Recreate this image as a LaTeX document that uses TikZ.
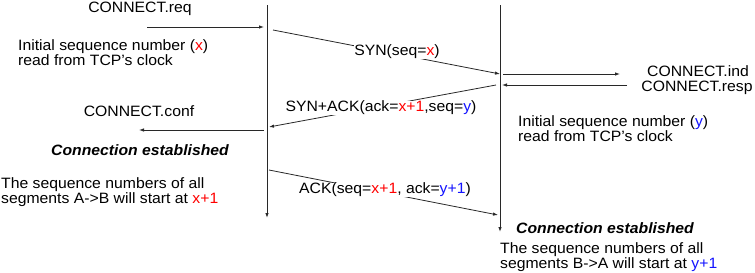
\documentclass[tikz,border=0pt]{standalone}
\usepackage{fontspec}
\setmainfont{Liberation Sans}[FakeStretch=1.05]
\usetikzlibrary{arrows.meta}
\definecolor{xred}{RGB}{255,0,0}
\definecolor{yblue}{RGB}{20,20,255}
\definecolor{linegray}{RGB}{40,40,40}
\tikzset{
  every node/.style={inner sep=0pt, font=\fontsize{15}{15}\selectfont},
  timeline/.style={draw=linegray, line width=0.9pt, -{Latex[length=5pt,width=3.5pt]}},
  msg/.style={draw=linegray, line width=0.8pt, -{Latex[length=5pt,width=3.5pt]}},
  msglabel/.style={fill=white, inner sep=0.5pt},
  txt/.style={align=left, anchor=west},
  estab/.style={font=\fontsize{15}{15}\selectfont\bfseries\itshape}
}
\newcommand{\rx}[1]{\textcolor{xred}{#1}}
\newcommand{\by}[1]{\textcolor{yblue}{#1}}
\begin{document}
\begin{tikzpicture}[x=1pt,y=-1pt]
\useasboundingbox (0,0) rectangle (755,273);
% timelines
\coordinate (Atop) at (267,5);
\coordinate (Abot) at (267,218);
\coordinate (Btop) at (500,5);
\coordinate (Bbot) at (500,232);
\draw[timeline] (Atop) -- (Abot);
\draw[timeline] (Btop) -- (Bbot);
% end points
\coordinate (reqS) at (147,27);
\coordinate (reqE) at (264,27);
\coordinate (synS) at (273,30);
\coordinate (synE) at (500,74);
\coordinate (indS) at (503,74);
\coordinate (indE) at (620,74);
\coordinate (respS) at (627,85);
\coordinate (respE) at (502,85);
\coordinate (saS) at (496,85);
\coordinate (saE) at (269,127);
\coordinate (confS) at (264,130);
\coordinate (confE) at (139,130);
\coordinate (ackS) at (269,170);
\coordinate (ackE) at (498,215);
% arrows
\draw[msg] (reqS) -- (reqE);
\draw[msg] (synS) -- (synE);
\draw[msg] (indS) -- (indE);
\draw[msg] (respS) -- (respE);
\draw[msg] (saS) -- (saE);
\draw[msg] (confS) -- (confE);
\draw[msg] (ackS) -- (ackE);
% message labels
\node[msglabel] (synl) at (397,52) {SYN(seq=\rx{x})};
\node[msglabel] (sal) at (381,108) {SYN+ACK(ack=\rx{x+1},seq=\by{y})};
\node[msglabel] (ackl) at (385,190) {ACK(seq=\rx{x+1}, ack=\by{y+1})};
% texts side A
\node (req) at (140,9) {CONNECT.req};
\node[txt] (isnA) at (18,53) {Initial sequence number (\rx{x})\\read from TCP’s clock};
\node (conf) at (139,111) {CONNECT.conf};
\node[estab] (ceA) at (140,150) {Connection established};
\node[txt] (seqA) at (1,192) {The sequence numbers of all\\segments A->B will start at \rx{x+1}};
% texts side B
\node (ind) at (698,71) {CONNECT.ind};
\node (resp) at (697,88) {CONNECT.resp};
\node[txt] (isnB) at (518,129) {Initial sequence number (\by{y})\\read from TCP’s clock};
\node[estab] (ceB) at (605,228) {Connection established};
\node[txt] (seqB) at (500,257) {The sequence numbers of all\\segments B->A will start at \by{y+1}};
\end{tikzpicture}
\end{document}
